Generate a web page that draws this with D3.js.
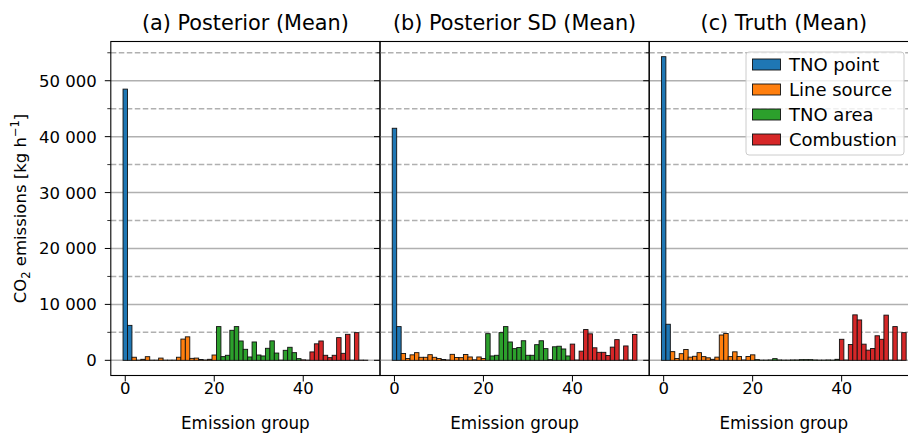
<!DOCTYPE html>
<html><head><meta charset="utf-8">
<script src="https://cdn.jsdelivr.net/npm/d3@7"></script>
<style>body{margin:0;background:#fff;} svg text{font-family:"DejaVu Sans",sans-serif;fill:#000;}</style>
</head><body><svg id="chart" width="908" height="433"></svg>
<script>
// ---- data ----
const categories = ["TNO point", "Line source", "TNO area", "Combustion"];
const categoryCounts = [2, 19, 19, 15];
const categoryColors = ["#1f77b4", "#ff7f0e", "#2ca02c", "#d62728"];
const panelTitles = ["(a) Posterior (Mean)", "(b) Posterior SD (Mean)", "(c) Truth (Mean)"];

const posteriorMean = [
  48500, 6250,
  550, 30, 180, 650, 20, 20, 400, 20, 20, 20, 550, 3800, 4200, 350, 400, 150, 50, 180, 950,
  6030, 660, 900, 5370, 6030, 3460, 1970, 600, 3280, 950, 780, 2150, 3480, 1300, 30, 1790, 2330, 1370, 300,
  80, 30, 1500, 2950, 3460, 900, 480, 900, 4060, 1250, 4650, 20, 4950, 30, 20
];
const posteriorSD = [
  41500, 6030,
  1220, 330, 980, 1370, 540, 540, 1010, 540, 330, 150, 60, 1070, 510, 480, 1040, 600, 90, 600, 330,
  4770, 780, 900, 4950, 6030, 3280, 2090, 2300, 3500, 900, 900, 2800, 3500, 2090, 120, 2420, 2520, 2030, 780,
  2900, 50, 1640, 5500, 4740, 2240, 1430, 1430, 870, 2360, 3700, 40, 2570, 40, 4620
];
const truthMean = [
  54300, 6450,
  1550, 330, 1190, 1940, 570, 720, 1370, 660, 450, 180, 570, 4530, 4800, 660, 1520, 690, 60, 690, 980,
  120, 30, 30, 60, 300, 60, 30, 30, 60, 60, 120, 120, 120, 60, 30, 30, 60, 30, 180,
  3760, 50, 2830, 8130, 7220, 2890, 1820, 2120, 4390, 3760, 8080, 30, 6030, 30, 4950
];
const yMajorTicks = [0, 10000, 20000, 30000, 40000, 50000];
const yMinorTicks = [5000, 15000, 25000, 35000, 45000, 55000];
const xTicks = [0, 20, 40];

// ---- derived ----
const groupCategory = [];
categoryCounts.forEach((n, k) => { for (let j = 0; j < n; j++) groupCategory.push(k); });
const panelData = [posteriorMean, posteriorSD, truthMean];

const svg = d3.select("#chart");
const plotTop = 41.5, plotBottom = 375.5;
const panelLeft = [110.8, 380.0, 649.2];
const panelWidth = 269.2;
const nGroups = groupCategory.length;
const maxVal = d3.max(panelData.flat());
const y = d3.scaleLinear().domain([-0.05 * maxVal, maxVal * 1.05]).range([plotBottom, plotTop]);
const fmt = v => d3.format(",")(v).replace(/,/g, " ");

panelData.forEach((vals, p) => {
  const x0 = panelLeft[p], x1 = x0 + panelWidth;
  const pad = 0.05 * nGroups;
  const x = d3.scaleLinear().domain([-0.5 - pad, nGroups - 0.5 + pad]).range([x0, x1]);
  const g = svg.append("g");

  // grid (below bars)
  g.selectAll(".gmaj").data(yMajorTicks).join("line")
    .attr("x1", x0).attr("x2", x1).attr("y1", d => y(d)).attr("y2", d => y(d))
    .attr("stroke", "#b0b0b0").attr("stroke-width", 1.5);
  g.selectAll(".gmin").data(yMinorTicks).join("line")
    .attr("x1", x0).attr("x2", x1).attr("y1", d => y(d)).attr("y2", d => y(d))
    .attr("stroke", "#b0b0b0").attr("stroke-width", 1.5).attr("stroke-dasharray", "5.5,2.5");

  // bars
  g.selectAll("rect.bar").data(vals).join("rect").attr("class", "bar")
    .attr("x", (d, i) => x(i - 0.5)).attr("width", (d, i) => x(i + 0.5) - x(i - 0.5))
    .attr("y", d => y(d)).attr("height", d => y(0) - y(d))
    .attr("fill", (d, i) => categoryColors[groupCategory[i]])
    .attr("stroke", "#111").attr("stroke-width", 0.9);

  // spines
  g.append("rect").attr("x", x0).attr("y", plotTop).attr("width", panelWidth).attr("height", plotBottom - plotTop)
    .attr("fill", "none").attr("stroke", "#000").attr("stroke-width", 1.1);

  // y ticks
  g.selectAll(".ytm").data(yMajorTicks).join("line")
    .attr("x1", x0 - 6).attr("x2", x0).attr("y1", d => y(d)).attr("y2", d => y(d))
    .attr("stroke", "#000").attr("stroke-width", 1);
  g.selectAll(".ytn").data(yMinorTicks).join("line")
    .attr("x1", x0 - 3.5).attr("x2", x0).attr("y1", d => y(d)).attr("y2", d => y(d))
    .attr("stroke", "#000").attr("stroke-width", 0.8);
  if (p === 0) {
    g.selectAll(".ytl").data(yMajorTicks).join("text")
      .attr("x", x0 - 14).attr("y", d => y(d)).attr("dy", "0.36em")
      .attr("text-anchor", "end").attr("font-size", 16.5).text(fmt);
  }

  // x ticks
  g.selectAll(".xt").data(xTicks).join("line")
    .attr("x1", d => x(d)).attr("x2", d => x(d)).attr("y1", plotBottom).attr("y2", plotBottom + 6)
    .attr("stroke", "#000").attr("stroke-width", 1);
  g.selectAll(".xtl").data(xTicks).join("text")
    .attr("x", d => x(d)).attr("y", plotBottom + 18)
    .attr("text-anchor", "middle").attr("font-size", 16.5).text(d => d);

  // x label
  g.append("text").attr("x", (x0 + x1) / 2).attr("y", plotBottom + 53)
    .attr("text-anchor", "middle").attr("font-size", 16.8).text("Emission group");

  // title
  g.append("text").attr("x", (x0 + x1) / 2).attr("y", 29.5)
    .attr("text-anchor", "middle").attr("font-size", 20.8).text(panelTitles[p]);
});

// y label
const yl = svg.append("text").attr("transform", `translate(26,${(plotTop + plotBottom) / 2}) rotate(-90)`)
  .attr("text-anchor", "middle").attr("font-size", 16.5);
yl.append("tspan").text("CO");
yl.append("tspan").attr("font-size", 11.5).attr("dy", 4).text("2");
yl.append("tspan").attr("dy", -4).text(" emissions [kg h");
yl.append("tspan").attr("font-size", 11.5).attr("dy", -7).text("−1");
yl.append("tspan").attr("dy", 7).text("]");

// legend
const lg = svg.append("g").attr("transform", "translate(746,52)");
lg.append("rect").attr("x", 0).attr("y", 0).attr("width", 158).attr("height", 103).attr("rx", 3)
  .attr("fill", "#fff").attr("fill-opacity", 0.8).attr("stroke", "#cccccc").attr("stroke-width", 1);
categories.forEach((c, k) => {
  const yy = 13 + k * 25;
  lg.append("rect").attr("x", 6.5).attr("y", yy - 6).attr("width", 28).attr("height", 11)
    .attr("fill", categoryColors[k]).attr("stroke", "#111").attr("stroke-width", 0.9);
  lg.append("text").attr("x", 43).attr("y", yy).attr("dy", "0.36em").attr("font-size", 18).text(c);
});
</script></body></html>
